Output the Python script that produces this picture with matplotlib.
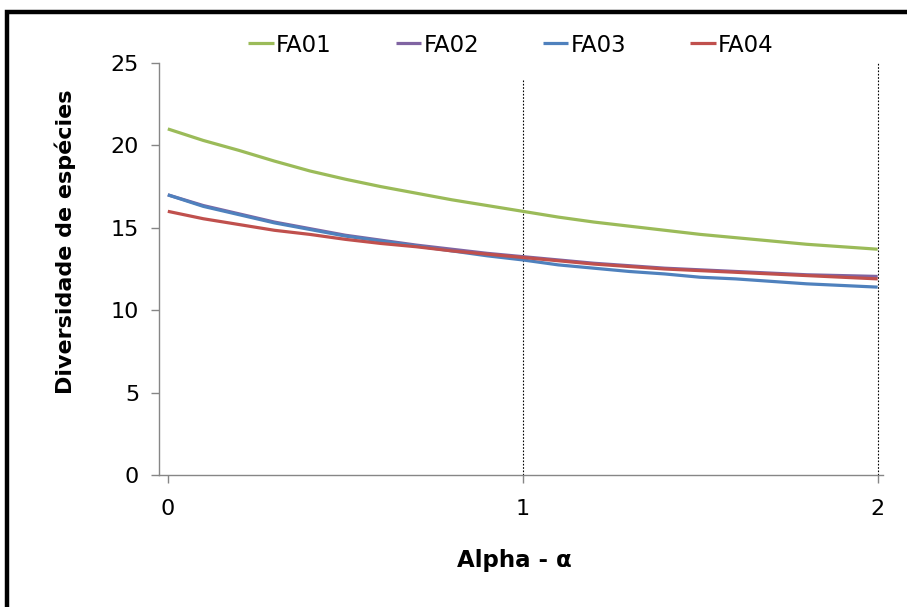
import numpy as np
import matplotlib
matplotlib.use("Agg")
import matplotlib.pyplot as plt
from matplotlib.patches import Rectangle

# Alpha values of the diversity profile
alpha = [0.0, 0.1, 0.2, 0.3, 0.4, 0.5, 0.6, 0.7, 0.8, 0.9, 1.0,
         1.1, 1.2, 1.3, 1.4, 1.5, 1.6, 1.7, 1.8, 1.9, 2.0]

fa01 = [21.0, 20.3, 19.7, 19.05, 18.45, 17.95, 17.5, 17.1, 16.7, 16.35, 16.0,
        15.65, 15.35, 15.1, 14.85, 14.6, 14.4, 14.2, 14.0, 13.85, 13.7]
fa02 = [17.0, 16.35, 15.85, 15.35, 14.95, 14.55, 14.25, 13.95, 13.7, 13.45, 13.25,
        13.05, 12.85, 12.7, 12.55, 12.45, 12.35, 12.25, 12.15, 12.1, 12.05]
fa03 = [17.0, 16.3, 15.8, 15.3, 14.9, 14.5, 14.2, 13.9, 13.6, 13.3, 13.05,
        12.75, 12.55, 12.35, 12.2, 12.0, 11.9, 11.75, 11.6, 11.5, 11.4]
fa04 = [16.0, 15.55, 15.2, 14.85, 14.6, 14.3, 14.05, 13.85, 13.6, 13.4, 13.2,
        13.0, 12.8, 12.65, 12.5, 12.4, 12.3, 12.2, 12.1, 12.0, 11.9]

series_names = ["FA01", "FA02", "FA03", "FA04"]
series_colors = ["#9BBB59", "#8064A2", "#4F81BD", "#C0504D"]
x_ticks = [0, 1, 2]
y_ticks = [0, 5, 10, 15, 20, 25]
ref_lines = [(1, 24.05), (2, 25)]

plt.rcParams['font.family'] = ['DejaVu Sans']

fig = plt.figure(figsize=(9.07, 6.07), dpi=100)
ax = fig.add_axes([159.3 / 907, 1 - 475 / 607, 723.7 / 907, 412 / 607])

for vals, name, col in zip([fa01, fa02, fa03, fa04], series_names, series_colors):
    ax.plot(alpha, vals, color=col, lw=2.3, label=name, clip_on=False,
            solid_capstyle='butt')

# dotted reference lines
for xv, top in ref_lines:
    ax.plot([xv, xv], [0, top], color='black', lw=0.8, ls=(0, (1.5, 1.5)), zorder=0)

ax.set_xlim(-0.024, 2.015)
ax.set_ylim(0, 25)
ax.set_xticks(x_ticks)
ax.set_yticks(y_ticks)
ax.set_xticklabels([str(t) for t in x_ticks])
for s in ['top', 'right']:
    ax.spines[s].set_visible(False)
for s in ['left', 'bottom']:
    ax.spines[s].set_color('#868686')
    ax.spines[s].set_linewidth(1.0)
ax.tick_params(axis='both', colors='#868686', labelcolor='black', labelsize=16,
               length=5.5, width=1.0)
ax.tick_params(axis='x', pad=12)
ax.tick_params(axis='y', pad=9)

ax.set_ylabel("Diversidade de espécies", fontsize=16, fontweight='bold')
ax.yaxis.set_label_coords(-0.115, 0.567)
ax.set_xlabel("Alpha - α", fontsize=16.5, fontweight='bold')
ax.xaxis.set_label_coords(0.49, -0.18)

fig.legend(loc='center', bbox_to_anchor=(511 / 907, 1 - 45 / 607), ncol=4,
           frameon=False, fontsize=16.5, handlelength=1.1, handletextpad=0.1,
           columnspacing=2.8)

# outer frame
fig.patches.append(Rectangle((6.5 / 907, -0.1), 1.2, 1 - 11.5 / 607 + 0.1,
                             transform=fig.transFigure, fill=False,
                             edgecolor='black', lw=3.2))

fig.savefig("out.png", dpi=100)
